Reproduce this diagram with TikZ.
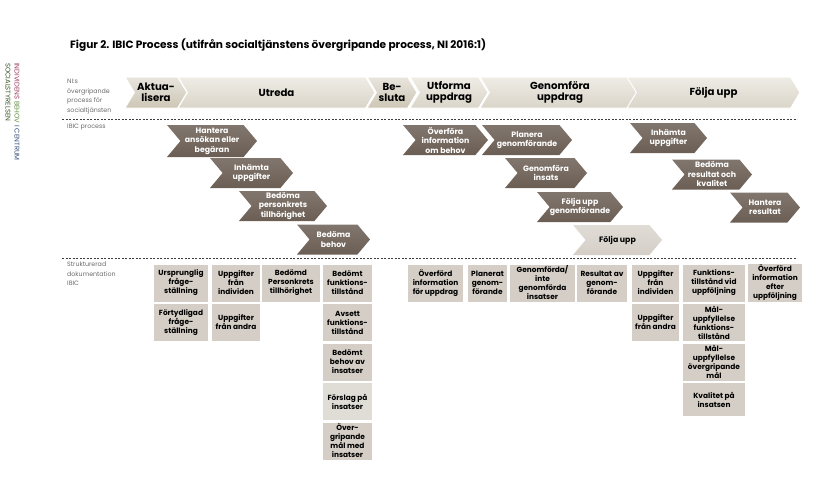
\documentclass[tikz,border=0pt]{standalone}
\usepackage{fontspec}
\setmainfont{Poppins}
\usepackage{tikz}
\usetikzlibrary{positioning,shapes.symbols}
\definecolor{ibicdark}{HTML}{6B5E54}
\definecolor{ibicbox}{HTML}{D4CEC6}
\definecolor{ibicboxlt}{HTML}{E0DCD6}
\definecolor{ibicband}{HTML}{DAD5C8}
\definecolor{ibicbanddk}{HTML}{CDC6B5}
\definecolor{ibicline}{HTML}{3C3C3C}
\definecolor{ibiclabel}{HTML}{6A6A6A}
\definecolor{ibicred}{HTML}{9A3B5E}
\definecolor{ibicgreen}{HTML}{5E8C3A}
\definecolor{ibicblue}{HTML}{2E4A78}

\begin{document}
\begin{tikzpicture}[x=1pt,y=-1pt,
  phasebox/.style={signal,signal from=west,signal to=east,signal pointer angle=118,draw=white,line width=1pt,
    top color=#1!45!white,bottom color=#1,minimum height=31pt,inner sep=0pt,
    font=\fontsize{10.2}{11.5}\selectfont\bfseries,align=center},
  ibicstep/.style={signal,signal from=west,signal to=east,signal pointer angle=100,
    top color=ibicdark!85!white,bottom color=ibicdark,text=white,minimum height=30pt,inner sep=0pt,
    font=\fontsize{7.8}{9.5}\selectfont\bfseries,align=center},
  docbox/.style={fill=ibicbox,minimum height=37pt,inner sep=1pt,font=\fontsize{7.4}{9}\selectfont\bfseries,align=center},
  rowlabel/.style={anchor=north west,inner sep=0pt,text=ibiclabel,font=\fontsize{6.3}{9.5}\selectfont,align=left},
  rowsep/.style={ibicline,dash pattern=on 2.2pt off 1.3pt,line width=0.6pt}
]
\useasboundingbox (0,0) rectangle (835,477);

\node[anchor=west,inner sep=0pt,font=\fontsize{10.6}{12}\selectfont\bfseries] (title) at (70,45)
  {Figur 2. IBIC Process (utifrån socialtjänstens övergripande process, NI 2016:1)};
\node[rotate=-90,anchor=west,inner sep=0pt,font=\fontsize{6.8}{7}\selectfont] (brand) at (17,63)
  {\textcolor{ibicred}{INDIVIDENS} \textcolor{ibicgreen}{BEHOV} \textcolor{ibicblue}{I CENTRUM}};
\node[rotate=-90,anchor=west,inner sep=0pt,text=ibicgreen!60!black,font=\fontsize{6.8}{7}\selectfont] (sos) at (8,63)
  {SOCIALSTYRELSEN};

% rad 1
\node[rowlabel] (lblni) at (67,79) {NI:s\\övergripande\\process för\\socialtjänsten};
\node[phasebox=ibicbanddk,minimum width=62pt] (aktu) at (156,92.5) {Aktua-\\lisera};
\node[phasebox=ibicband,minimum width=197pt] (utreda) at (276.5,92.5) {Utreda};
\node[phasebox=ibicbanddk,minimum width=50pt] (besluta) at (392,92.5) {Be-\\sluta};
\node[phasebox=ibicband,minimum width=78pt] (utforma) at (449,92.5) {Utforma\\uppdrag};
\node[phasebox=ibicband,minimum width=160pt] (genomf) at (560,92.5) {Genomföra\\uppdrag};
\node[phasebox=ibicband,minimum width=173pt] (foljaupp) at (713.5,92.5) {Följa upp};

\coordinate (sepa1) at (62,119);
\coordinate (sepa2) at (797,119);
\draw[rowsep] (sepa1) -- (sepa2);

% rad 2
\node[rowlabel] (lblibic) at (67,124) {IBIC process};
\node[ibicstep,minimum width=90pt,minimum height=32pt] (hantera) at (212,141) {Hantera\\ansökan eller\\begäran};
\node[ibicstep,minimum width=83pt] (inhamta) at (251.5,173) {Inhämta\\uppgifter};
\node[ibicstep,minimum width=88pt] (personkr) at (283,206) {Bedöma\\personkrets\\tillhörighet};
\node[ibicstep,minimum width=73pt] (behov) at (333.5,239.5) {Bedöma\\behov};
\node[ibicstep,minimum width=85pt] (overfora) at (445.5,140) {Överföra\\information\\om behov};
\node[ibicstep,minimum width=90pt] (planera) at (527,140) {Planera\\genomförande};
\node[ibicstep,minimum width=82pt] (insats) at (546,173) {Genomföra\\insats};
\node[ibicstep,minimum width=86pt] (foljgen) at (580,207) {Följa upp\\genomförande};
\node[ibicstep,minimum width=89pt,top color=ibicboxlt,bottom color=ibicbox,text=black] (foljupp) at (617.5,240) {Följa upp};
\node[ibicstep,minimum width=77pt] (inhamta2) at (668.5,138) {Inhämta\\uppgifter};
\node[ibicstep,minimum width=80pt] (resultat) at (712,174.5) {Bedöma\\resultat och\\kvalitet};
\node[ibicstep,minimum width=70pt] (hantres) at (765,207.5) {Hantera\\resultat};

\coordinate (sepb1) at (62,258);
\coordinate (sepb2) at (797,258);
\draw[rowsep] (sepb1) -- (sepb2);

% rad 3
\node[rowlabel] (lbldok) at (67,262) {Strukturerad\\dokumentation\\IBIC};
\node[docbox,minimum width=54pt] (ursp) at (181,283) {Ursprunglig\\fråge-\\ställning};
\node[docbox,minimum width=54pt] (fortyd) at (181,322.5) {Förtydligad\\fråge-\\ställning};
\node[docbox,minimum width=48pt] (uppind) at (236,283) {Uppgifter\\från\\individen};
\node[docbox,minimum width=48pt] (uppand) at (236,322.5) {Uppgifter\\från andra};
\node[docbox,minimum width=58pt] (bedpers) at (291,283) {Bedömd\\Personkrets\\tillhörighet};
\node[docbox,minimum width=49pt] (bedfunk) at (347.5,283) {Bedömt\\funktions-\\tillstånd};
\node[docbox,minimum width=49pt] (avsett) at (347.5,322.5) {Avsett\\funktions-\\tillstånd};
\node[docbox,minimum width=49pt] (bedbeh) at (347.5,362) {Bedömt\\behov av\\insatser};
\node[docbox,minimum width=49pt,fill=ibicboxlt] (forslag) at (347.5,401.5) {Förslag på\\insatser};
\node[docbox,minimum width=49pt] (overgr) at (347.5,441) {Över-\\gripande\\mål med\\insatser};
\node[docbox,minimum width=55pt] (overfd) at (435.5,283) {Överförd\\information\\för uppdrag};
\node[docbox,minimum width=39pt] (planerat) at (487.5,283) {Planerat\\genom-\\förande};
\node[docbox,minimum width=65pt] (genomfd) at (542.5,283) {Genomförda/\\inte\\genomförda\\insatser};
\node[docbox,minimum width=50pt] (resav) at (602,283) {Resultat av\\genom-\\förande};
\node[docbox,minimum width=47pt] (uppind2) at (655.5,283) {Uppgifter\\från\\individen};
\node[docbox,minimum width=47pt] (uppand2) at (655.5,322.5) {Uppgifter\\från andra};
\node[docbox,minimum width=62pt] (funkvid) at (714,283) {Funktions-\\tillstånd vid\\uppföljning};
\node[docbox,minimum width=62pt] (malfunk) at (714,322.5) {Mål-\\uppfyllelse\\funktions-\\tillstånd};
\node[docbox,minimum width=62pt] (malover) at (714,362) {Mål-\\uppfyllelse\\övergripande\\mål};
\node[docbox,minimum width=62pt,minimum height=33pt] (kvalitet) at (714,399.5) {Kvalitet på\\insatsen};
\node[docbox,minimum width=54pt] (overfd2) at (775,283) {Överförd\\information\\efter\\uppföljning};
\end{tikzpicture}
\end{document}
